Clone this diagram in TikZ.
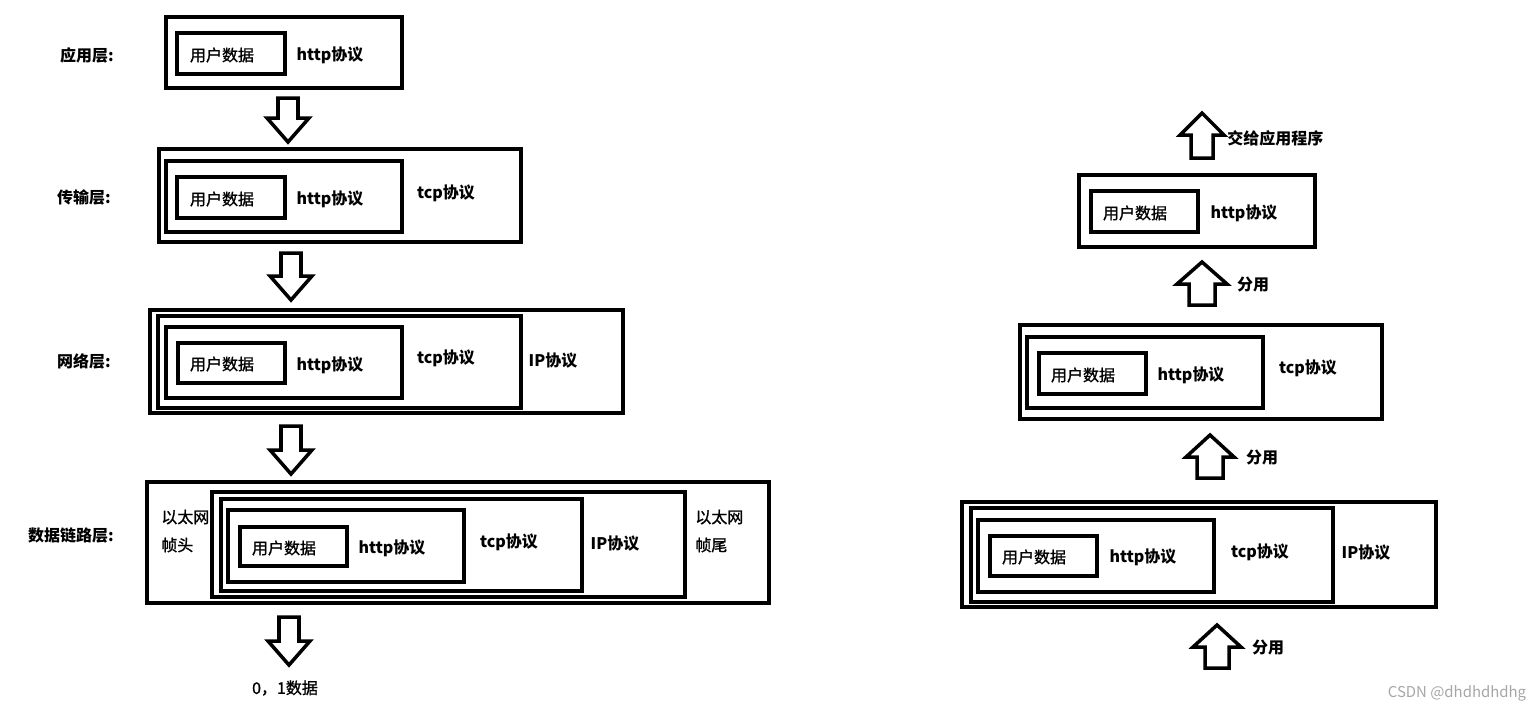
\documentclass[tikz,border=0pt]{standalone}
\usepackage{fontspec}
\setmainfont{Noto Sans CJK SC}
\newfontfamily\cjkmed{Noto Sans CJK SC}[FakeBold=1.2]
\usetikzlibrary{fit}

\begin{document}
\begin{tikzpicture}[
    x=0.02cm, y=-0.02cm,
    box/.style={draw, line width=2pt, inner sep=0pt},
    lay/.style={font=\fontsize{9.1}{11}\selectfont\bfseries, inner sep=0pt},
    dat/.style={font=\fontsize{9.1}{11}\selectfont\cjkmed, inner sep=0pt},
    blk/.style={draw, line width=2pt, fill=white},
]
\useasboundingbox (0,0) rectangle (1533,711);
%% -- Layer names --
\node[lay](lApp)at(87,55){应用层:};
\node[lay](lTra)at(84,197){传输层:};
\node[lay](lNet)at(84,361){网络层:};
\node[lay](lLnk)at(71,535){数据链路层:};
%% -- Sending: application layer --
\node[box,fit={(166,17) (402,88)}](sApp){};
\node[box,fit={(177,33) (285,74)}](sAppU){};
\node[dat](tAppU)at(222,55){用户数据};
\node[lay](tAppH)at(330,55){http协议};
%% -- Sending: transport layer --
\node[box,fit={(159,149) (521,242)}](sTra){};
\node[box,fit={(166,161) (402,232)}](sTraH){};
\node[box,fit={(177,177) (285,218)}](sTraU){};
\node[dat](tTraU)at(222,199){用户数据};
\node[lay](tTraH)at(330,199){http协议};
\node[lay](tTraT)at(446,193){tcp协议};
%% -- Sending: network layer --
\node[box,fit={(150,310) (623,413)}](sNet){};
\node[box,fit={(158,316) (521,408)}](sNetT){};
\node[box,fit={(166,327) (402,398)}](sNetH){};
\node[box,fit={(178,343) (285,383)}](sNetU){};
\node[dat](tNetU)at(222,364){用户数据};
\node[lay](tNetH)at(330,365){http协议};
\node[lay](tNetT)at(446,358){tcp协议};
\node[lay](tNetI)at(553,361){IP协议};
%% -- Sending: data link layer --
\node[box,fit={(147,482) (769,603)}](sLnk){};
\node[box,fit={(212,492) (685,597)}](sLnkI){};
\node[box,fit={(221,499) (582,591)}](sLnkT){};
\node[box,fit={(228,510) (464,582)}](sLnkH){};
\node[box,fit={(240,527) (347,566)}](sLnkU){};
\node[dat](tLnkU)at(284,548){用户数据};
\node[lay](tLnkH)at(392,548){http协议};
\node[lay](tLnkT)at(509,542){tcp协议};
\node[lay](tLnkI)at(615,544){IP协议};
\node[dat,anchor=west](tEthA)at(161,517){以太网};
\node[dat,anchor=west](tEthB)at(161,545){帧头};
\node[dat,anchor=west](tEthC)at(695,517){以太网};
\node[dat,anchor=west](tEthD)at(695,545){帧尾};
\node[dat](tBits)at(285,688){0，1数据};
%% -- Sending: block arrows down --
\foreach \cx/\ty/\by in {288/98/142, 291/253/300, 291/426/474, 289/617/665}{
  \draw[blk](\cx-10,\ty)--(\cx+10,\ty)--(\cx+10,\by-24)--(\cx+21,\by-24)
    --(\cx,\by)--(\cx-21,\by-24)--(\cx-10,\by-24)--cycle;
}
%% -- Receiving: application layer --
\node[box,fit={(1079,175) (1315,247)}](rApp){};
\node[box,fit={(1091,191) (1198,232)}](rAppU){};
\node[dat](rtAppU)at(1135,213){用户数据};
\node[lay](rtAppH)at(1244,213){http协议};
\node[lay,anchor=west](rtGive)at(1227,138){交给应用程序};
%% -- Receiving: transport layer --
\node[box,fit={(1020,325) (1382,419)}](rTra){};
\node[box,fit={(1027,337) (1263,408)}](rTraH){};
\node[box,fit={(1039,353) (1146,394)}](rTraU){};
\node[dat](rtTraU)at(1083,375){用户数据};
\node[lay](rtTraH)at(1191,375){http协议};
\node[lay](rtTraT)at(1308,368){tcp协议};
%% -- Receiving: network layer --
\node[box,fit={(962,502) (1436,607)}](rNet){};
\node[box,fit={(971,508) (1333,602)}](rNetT){};
\node[box,fit={(978,520) (1214,592)}](rNetH){};
\node[box,fit={(990,536) (1097,576)}](rNetU){};
\node[dat](rtNetU)at(1034,557){用户数据};
\node[lay](rtNetH)at(1143,557){http协议};
\node[lay](rtNetT)at(1260,552){tcp协议};
\node[lay](rtNetI)at(1366,553){IP协议};
%% -- Receiving: block arrows up --
\foreach \cx/\ty/\by/\sw/\hw in {1202/113/158/11/22, 1202/262/305/13/25, 1210/435/478/13/24, 1217/625/668/12/24}{
  \draw[blk](\cx,\ty)--(\cx+\hw,\ty+22)--(\cx+\sw,\ty+22)--(\cx+\sw,\by)
    --(\cx-\sw,\by)--(\cx-\sw,\ty+22)--(\cx-\hw,\ty+22)--cycle;
}
\node[lay](rtDemA)at(1253,285){分用};
\node[lay](rtDemB)at(1262,458){分用};
\node[lay](rtDemC)at(1268,648){分用};
%% -- Watermark --
\node[font=\fontsize{8.5}{10}\selectfont,gray!70,inner sep=0pt](mark)at(1457,693){CSDN @dhdhdhdhg};
\end{tikzpicture}
\end{document}
